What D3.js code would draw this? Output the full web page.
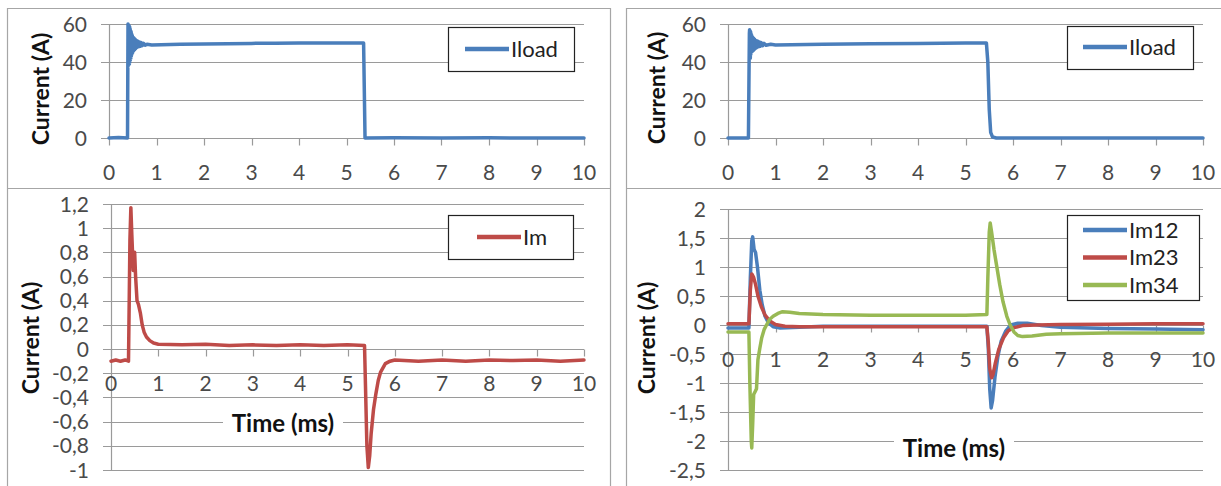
<!DOCTYPE html>
<html>
<head>
<meta charset="utf-8">
<script src="https://cdn.jsdelivr.net/npm/d3@7"></script>
<style>
  html, body { margin: 0; padding: 0; background: #fff; }
  svg { display: block; }
</style>
</head>
<body>
<svg id="chart" width="1221" height="486"></svg>
<script>
// ---------------- DATA ----------------
const xTicks = [0, 1, 2, 3, 4, 5, 6, 7, 8, 9, 10];
const yTicksLoad = [0, 20, 40, 60];
const yTicksImLeft = [-1, -0.8, -0.6, -0.4, -0.2, 0, 0.2, 0.4, 0.6, 0.8, 1, 1.2];
const yTicksImRight = [-2.5, -2, -1.5, -1, -0.5, 0, 0.5, 1, 1.5, 2];

const seriesNamesLeftTop = ["Iload"];
const seriesNamesLeftBottom = ["Im"];
const seriesNamesRightTop = ["Iload"];
const seriesNamesRightBottom = ["Im12", "Im23", "Im34"];

const axisTitleY = "Current (A)";
const axisTitleX = "Time (ms)";

// [time ms, current A]
const iloadLeft = [[0,0],[0.2,0.2],[0.39,0],[0.40,60],[0.41,38],[0.415,59.5],[0.42,38.5],[0.425,59],[0.43,39],[0.435,58.5],[0.44,40],[0.445,57.5],[0.45,41],[0.455,56.5],[0.46,42],[0.465,56],[0.47,43],[0.475,55],[0.48,44],[0.49,54],[0.50,45],[0.51,53],[0.52,46],[0.53,52.5],[0.54,46.5],[0.55,52],[0.56,47],[0.57,51.5],[0.58,47.5],[0.60,51],[0.62,48],[0.64,50.5],[0.66,48.3],[0.68,50.2],[0.70,48.6],[0.73,49.8],[0.76,48.8],[0.8,49.3],[0.9,49],[1.5,49.3],[2,49.5],[2.5,49.6],[3,49.8],[3.5,49.9],[4,50],[4.5,50],[5,50],[5.36,50],[5.39,0],[6,0.1],[7,0],[8,0.1],[9,0],[10,0]];

const iloadRight = [[0,0],[0.43,0],[0.45,55],[0.455,57],[0.46,43],[0.465,56],[0.47,42],[0.475,56],[0.48,44],[0.485,55],[0.49,45],[0.50,54],[0.51,45.5],[0.52,53],[0.53,46],[0.54,52.5],[0.55,46.5],[0.56,52],[0.57,47],[0.58,51.5],[0.60,47.5],[0.62,51],[0.64,48],[0.66,50.5],[0.68,48.3],[0.70,50.2],[0.73,48.6],[0.76,49.8],[0.8,48.8],[0.9,49.3],[1,49],[2,49.3],[3,49.6],[4,49.8],[5,50],[5.44,50],[5.47,40],[5.5,15],[5.53,3],[5.57,0.5],[5.65,0],[10,0]];

const imLeft = [[0,-0.1],[0.1,-0.09],[0.2,-0.1],[0.3,-0.09],[0.37,-0.1],[0.40,0.9],[0.42,1.17],[0.44,0.95],[0.47,0.65],[0.50,0.8],[0.52,0.6],[0.55,0.4],[0.58,0.37],[0.62,0.3],[0.66,0.2],[0.7,0.14],[0.75,0.1],[0.82,0.07],[0.9,0.05],[1.0,0.04],[1.5,0.035],[2,0.04],[2.5,0.03],[3,0.035],[3.5,0.03],[4,0.035],[4.5,0.03],[5,0.035],[5.36,0.03],[5.38,-0.3],[5.41,-0.8],[5.44,-0.98],[5.47,-0.88],[5.5,-0.7],[5.55,-0.5],[5.6,-0.37],[5.65,-0.26],[5.7,-0.19],[5.8,-0.12],[5.9,-0.1],[6.0,-0.09],[6.5,-0.1],[7,-0.09],[7.5,-0.1],[8,-0.09],[8.5,-0.095],[9,-0.09],[9.5,-0.1],[10,-0.09]];

const im12 = [[0,-0.05],[0.44,-0.05],[0.47,0.8],[0.5,1.45],[0.52,1.52],[0.55,1.3],[0.58,1.25],[0.62,1.0],[0.67,0.6],[0.72,0.35],[0.78,0.15],[0.85,0.04],[0.95,-0.03],[1.1,-0.05],[1.5,-0.04],[2,-0.02],[3,-0.02],[4,-0.02],[5,-0.02],[5.45,-0.02],[5.48,-0.4],[5.51,-1.1],[5.54,-1.43],[5.57,-1.3],[5.62,-0.9],[5.68,-0.55],[5.75,-0.28],[5.85,-0.1],[5.95,0],[6.1,0.03],[6.3,0.03],[6.6,-0.01],[7,-0.04],[8,-0.06],[9,-0.07],[10,-0.08]];

const im23 = [[0,0.02],[0.44,0.02],[0.47,0.6],[0.5,0.88],[0.54,0.82],[0.58,0.7],[0.63,0.5],[0.7,0.32],[0.78,0.17],[0.88,0.07],[1.0,0.01],[1.2,-0.02],[1.5,-0.03],[2,-0.03],[3,-0.03],[4,-0.03],[5,-0.03],[5.45,-0.03],[5.48,-0.3],[5.51,-0.75],[5.55,-0.91],[5.58,-0.85],[5.63,-0.65],[5.7,-0.42],[5.8,-0.22],[5.9,-0.1],[6.0,-0.05],[6.2,-0.01],[6.5,0],[7,0.01],[8,0.015],[9,0.02],[10,0.02]];

const im34 = [[0,-0.12],[0.44,-0.12],[0.46,-1.0],[0.49,-2.0],[0.5,-2.12],[0.52,-1.7],[0.54,-1.2],[0.57,-1.15],[0.6,-1.1],[0.63,-0.6],[0.67,-0.4],[0.71,-0.22],[0.76,-0.08],[0.81,0.0],[0.88,0.1],[0.95,0.15],[1.05,0.2],[1.15,0.23],[1.3,0.22],[1.5,0.2],[2,0.18],[3,0.17],[4,0.17],[5,0.17],[5.45,0.18],[5.47,0.8],[5.5,1.6],[5.52,1.76],[5.55,1.6],[5.6,1.3],[5.65,1.05],[5.72,0.7],[5.79,0.4],[5.87,0.15],[5.94,0.0],[6.02,-0.12],[6.1,-0.18],[6.2,-0.2],[6.4,-0.19],[6.7,-0.16],[7,-0.15],[8,-0.14],[9,-0.14],[10,-0.14]];

// ---------------- STYLE / LAYOUT ----------------
const COL_BLUE = "#4a7ebb", COL_RED = "#be4b48", COL_GREEN = "#98b954";
const GRID = "#9a9a9a";
const FONT = "Lato, 'Open Sans', 'Liberation Sans', sans-serif";

const svg = d3.select("#chart");
svg.append("rect").attr("width", 1221).attr("height", 486).attr("fill", "#fff");

// panel frames
const frame = svg.append("g").attr("fill", "none").attr("stroke", "#a6a6a6").attr("stroke-width", 1.2);
frame.append("path").attr("d", "M7.5,500 V8.5 H610.5 V500");
frame.append("path").attr("d", "M7.5,188.5 H610.5");
frame.append("path").attr("d", "M626.5,500 V8.5 H1230");
frame.append("path").attr("d", "M626.5,188.5 H1230");

const fmt = v => String(v).replace(".", ",");

function panel(cfg) {
  const x = d3.scaleLinear().domain([0, 10]).range([cfg.x0, cfg.x1]);
  const y = d3.scaleLinear().domain(cfg.yDomain).range([cfg.yBottom, cfg.yTop]);
  const g = svg.append("g");

  // horizontal gridlines (with outside tick extension)
  g.append("g").selectAll("line").data(cfg.yTicks).join("line")
    .attr("x1", cfg.x0 - 8).attr("x2", cfg.x1)
    .attr("y1", d => Math.round(y(d)) + 0.5).attr("y2", d => Math.round(y(d)) + 0.5)
    .attr("stroke", GRID).attr("stroke-width", 1);

  // y tick labels
  g.append("g").selectAll("text").data(cfg.yTicks).join("text")
    .attr("x", cfg.x0 - 22).attr("y", d => y(d)).attr("dy", "0.36em")
    .attr("text-anchor", "end").attr("font-family", FONT).attr("font-size", 21)
    .attr("fill", "#4a4a4a").text(fmt);

  // y axis line
  g.append("line").attr("x1", Math.round(cfg.x0) + 0.5).attr("x2", Math.round(cfg.x0) + 0.5)
    .attr("y1", cfg.yTop).attr("y2", cfg.yBottom).attr("stroke", GRID).attr("stroke-width", 1.2);

  // x axis at y=0
  const y0 = Math.round(y(0)) + 0.5;
  g.append("line").attr("x1", cfg.x0).attr("x2", cfg.x1).attr("y1", y0).attr("y2", y0)
    .attr("stroke", GRID).attr("stroke-width", 1.2);
  g.append("g").selectAll("line").data(xTicks).join("line")
    .attr("x1", d => Math.round(x(d)) + 0.5).attr("x2", d => Math.round(x(d)) + 0.5)
    .attr("y1", y0).attr("y2", y0 + 7).attr("stroke", GRID).attr("stroke-width", 1.2);
  g.append("g").selectAll("text").data(xTicks).join("text")
    .attr("x", d => x(d)).attr("y", y0 + 34).attr("dy", "0.36em")
    .attr("text-anchor", "middle").attr("font-family", FONT).attr("font-size", 21)
    .attr("fill", "#4a4a4a").text(d => fmt(d));

  // y title
  g.append("text").attr("transform", `translate(${cfg.yTitleX},${cfg.yTitleY}) rotate(-90)`)
    .attr("dy", "0.36em").attr("text-anchor", "middle").attr("font-family", FONT)
    .attr("font-size", 23).attr("font-weight", "bold").attr("fill", "#111").text(axisTitleY);

  // x title with white box
  if (cfg.xTitle) {
    g.append("rect").attr("x", cfg.xTitle.x - 60).attr("y", cfg.xTitle.y - 14)
      .attr("width", 120).attr("height", 28).attr("fill", "#fff");
    g.append("text").attr("x", cfg.xTitle.x).attr("y", cfg.xTitle.y).attr("dy", "0.36em")
      .attr("text-anchor", "middle").attr("font-family", FONT).attr("font-size", 24)
      .attr("font-weight", "bold").attr("fill", "#111").text(axisTitleX);
  }

  // series
  const line = d3.line().x(d => x(d[0])).y(d => y(d[1]));
  cfg.series.forEach(s => {
    g.append("path").datum(s.data).attr("d", line).attr("fill", "none")
      .attr("stroke", s.color).attr("stroke-width", 3.5)
      .attr("stroke-linejoin", "round").attr("stroke-linecap", "round");
  });

  // legend
  const L = cfg.legend;
  g.append("rect").attr("x", L.x + 0.5).attr("y", L.y + 0.5).attr("width", L.w).attr("height", L.h)
    .attr("fill", "#fff").attr("stroke", "#222").attr("stroke-width", 1.2);
  cfg.series.forEach((s, i) => {
    const ly = L.ly + i * L.step;
    g.append("line").attr("x1", L.lx).attr("x2", L.lx + 44).attr("y1", ly).attr("y2", ly)
      .attr("stroke", s.color).attr("stroke-width", 4.5);
    g.append("text").attr("x", L.lx + 46).attr("y", ly).attr("dy", "0.36em")
      .attr("font-family", FONT).attr("font-size", 22).attr("fill", "#222").text(s.name);
  });
}

panel({
  x0: 109, x1: 584, yTop: 24, yBottom: 138, yDomain: [0, 60], yTicks: yTicksLoad,
  yTitleX: 41, yTitleY: 89,
  series: [{ name: seriesNamesLeftTop[0], data: iloadLeft, color: COL_BLUE }],
  legend: { x: 448, y: 27, w: 126, h: 44, lx: 465, ly: 49, step: 0 }
});
panel({
  x0: 111, x1: 584, yTop: 204, yBottom: 470, yDomain: [-1, 1.2], yTicks: yTicksImLeft,
  yTitleX: 31, yTitleY: 338, xTitle: { x: 283, y: 423 },
  series: [{ name: seriesNamesLeftBottom[0], data: imLeft, color: COL_RED }],
  legend: { x: 448, y: 215, w: 125, h: 44, lx: 477, ly: 237, step: 0 }
});
panel({
  x0: 728, x1: 1203, yTop: 24, yBottom: 138, yDomain: [0, 60], yTicks: yTicksLoad,
  yTitleX: 657, yTitleY: 88,
  series: [{ name: seriesNamesRightTop[0], data: iloadRight, color: COL_BLUE }],
  legend: { x: 1067, y: 26, w: 126, h: 43, lx: 1083, ly: 47, step: 0 }
});
panel({
  x0: 728, x1: 1203, yTop: 209, yBottom: 470, yDomain: [-2.5, 2], yTicks: yTicksImRight,
  yTitleX: 647, yTitleY: 338, xTitle: { x: 954, y: 448 },
  series: [
    { name: seriesNamesRightBottom[0], data: im12, color: COL_BLUE },
    { name: seriesNamesRightBottom[1], data: im23, color: COL_RED },
    { name: seriesNamesRightBottom[2], data: im34, color: COL_GREEN }
  ],
  legend: { x: 1067, y: 215, w: 132, h: 85, lx: 1083, ly: 230, step: 27.5 }
});
</script>
</body>
</html>
